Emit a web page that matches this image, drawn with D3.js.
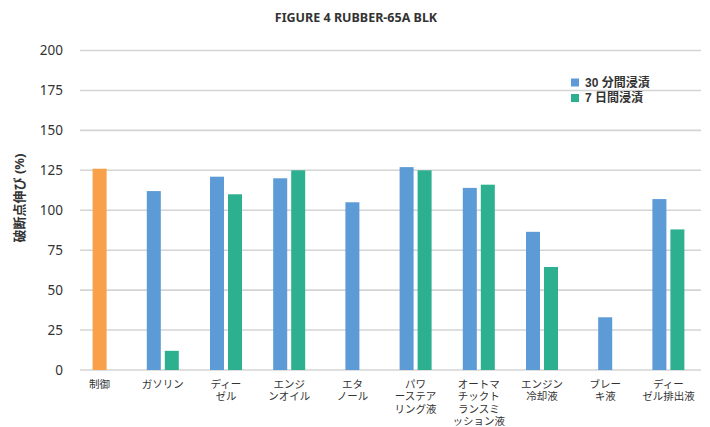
<!DOCTYPE html>
<html lang="ja"><head><meta charset="utf-8">
<script src="https://cdn.jsdelivr.net/npm/d3@7"></script>
<style>
body{margin:0;background:#fff;}
text{font-family:"Noto Sans","Noto Sans CJK JP",sans-serif;}
text.tight{font-family:"Liberation Sans","Noto Sans CJK JP",sans-serif;}
</style></head>
<body><svg id="c" width="710" height="427"></svg>
<script>
const categories = ["制御","ガソリン","ディー\nゼル","エンジ\nンオイル","エタ\nノール","パワ\nーステア\nリング液","オートマ\nチックト\nランスミ\nッション液","エンジン\n冷却液","ブレー\nキ液","ディー\nゼル排出液"];
const controlValues = [126,null,null,null,null,null,null,null,null,null];
const min30Values = [null,112,121,120,105,127,114,86.5,33,107];
const day7Values = [null,12,110,125,null,125,116,64.5,null,88];
const yTicks = [0,25,50,75,100,125,150,175,200];
const seriesNames = ["30 分間浸漬","7 日間浸漬"];
const colors = {control:"#F8A04A", min30:"#5C9BD5", day7:"#2DB08F"};

const svg = d3.select("#c");
const x = d3.scaleBand().domain(categories).range([68,700]).padding(0);
const y = d3.scaleLinear().domain([0,200]).range([370,50.5]);
const gridX0 = 80, gridX1 = 701;

// grid
svg.append("g").selectAll("line").data(yTicks).join("line")
  .attr("x1",gridX0).attr("x2",gridX1)
  .attr("y1",d=>y(d)).attr("y2",d=>y(d))
  .attr("stroke","#d4d4d4").attr("stroke-width",1.6);

// y tick labels
svg.append("g").selectAll("text").data(yTicks).join("text")
  .attr("x",63).attr("y",d=>y(d)).attr("dy","0.35em")
  .attr("text-anchor","end").attr("font-size",13.5).attr("fill","#333")
  .text(d=>d);

// bars
const bw = 14, gap = 4;
const rows = categories.map((c,i)=>{
  const items = [];
  if (controlValues[i]!=null) items.push({k:"control",v:controlValues[i]});
  if (min30Values[i]!=null) items.push({k:"min30",v:min30Values[i]});
  if (day7Values[i]!=null) items.push({k:"day7",v:day7Values[i]});
  const total = items.length*bw + (items.length-1)*gap;
  const c0 = x(c)+x.bandwidth()/2 - total/2;
  return items.map((it,j)=>({...it, x:c0 + j*(bw+gap)}));
}).flat();
svg.append("g").selectAll("rect").data(rows).join("rect")
  .attr("x",d=>d.x).attr("width",bw)
  .attr("y",d=>y(d.v)).attr("height",d=>y(0)-y(d.v))
  .attr("fill",d=>colors[d.k]);

// x labels (one text per line)
const lines = categories.flatMap(c=>c.split("\n").map((ln,i)=>({c,ln,i})));
svg.append("g").selectAll("text").data(lines).join("text")
  .attr("class","tight")
  .attr("text-anchor","middle").attr("font-size",10.5).attr("fill","#333")
  .attr("x",d=>x(d.c)+x.bandwidth()/2)
  .attr("y",d=>388+d.i*12.4)
  .text(d=>d.ln);

// title
svg.append("text").attr("x",356).attr("y",22).attr("text-anchor","middle")
  .attr("font-size",12.5).attr("font-weight","bold").attr("fill","#333")
  .attr("font-family","'Open Sans','Noto Sans',sans-serif")
  .text("FIGURE 4 RUBBER-65A BLK");

// y axis title
svg.append("text").attr("transform","translate(19,198) rotate(-90)")
  .attr("text-anchor","middle").attr("dy","0.35em")
  .attr("font-size",13).attr("font-weight","bold").attr("fill","#333")
  .text("破断点伸び (%)");

// legend
const lg = svg.append("g").attr("transform","translate(571,82.5)");
seriesNames.forEach((n,i)=>{
  const g = lg.append("g").attr("transform",`translate(0,${i*15.5})`);
  g.append("rect").attr("x",0).attr("y",-4).attr("width",8).attr("height",8)
    .attr("fill",i===0?colors.min30:colors.day7);
  g.append("text").attr("class","tight").attr("x",14).attr("y",0).attr("dy","0.35em")
    .attr("font-size",12).attr("font-weight","bold").attr("fill","#333").text(n);
});
</script></body></html>
